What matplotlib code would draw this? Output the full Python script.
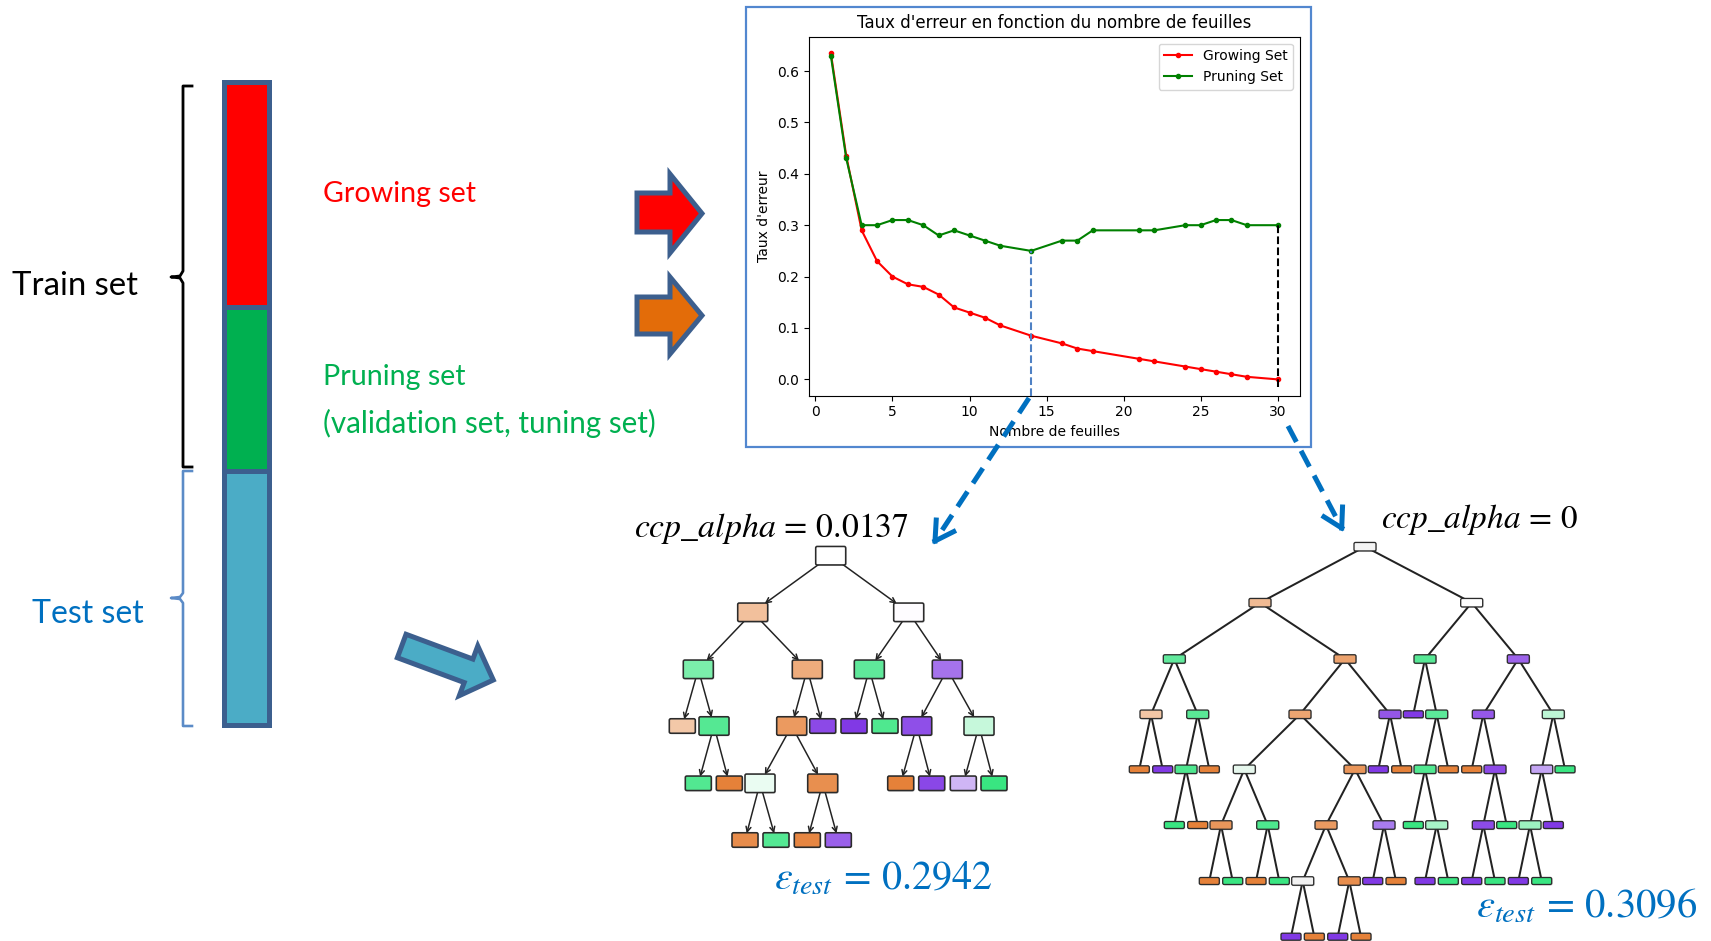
import numpy as np
import matplotlib
matplotlib.use("Agg")
import matplotlib.pyplot as plt
from matplotlib.patches import Rectangle, Polygon, FancyBboxPatch, FancyArrowPatch
from matplotlib.lines import Line2D

plt.rcParams["mathtext.fontset"] = "stix"

# ---------------- chart data ----------------
n_leaves = [1, 2, 3, 4, 5, 6, 7, 8, 9, 10, 11, 12, 14, 16, 17, 18, 21, 22, 24, 25, 26, 27, 28, 30]
err_growing = [0.635, 0.435, 0.29, 0.23, 0.20, 0.185, 0.18, 0.165, 0.14, 0.13, 0.12, 0.105,
               0.085, 0.07, 0.06, 0.055, 0.04, 0.035, 0.025, 0.02, 0.015, 0.01, 0.005, 0.0]
err_pruning = [0.63, 0.43, 0.30, 0.30, 0.31, 0.31, 0.30, 0.28, 0.29, 0.28, 0.27, 0.26,
               0.25, 0.27, 0.27, 0.29, 0.29, 0.29, 0.30, 0.30, 0.31, 0.31, 0.30, 0.30]
series_labels = ["Growing Set", "Pruning Set"]
best_leaves = 14
full_leaves = 30
chart_title = "Taux d'erreur en fonction du nombre de feuilles"
x_label = "Nombre de feuilles"
y_label = "Taux d'erreur"

# ---------------- diagram texts ----------------
txt_train = "Train set"
txt_test = "Test set"
txt_growing = "Growing set"
txt_pruning = "Pruning set"
txt_pruning2 = "(validation set, tuning set)"
txt_alpha_pruned = r"$ccp\_alpha\,=\,0.0137$"
txt_alpha_full = r"$ccp\_alpha\,=\,0$"
txt_eps_pruned = r"$\varepsilon_{test}\,=\,0.2942$"
txt_eps_full = r"$\varepsilon_{test}\,=\,0.3096$"

# ---------------- tree illustrations (pixel layout) ----------------
t1_x = [830.7, 752.7, 908.7, 698.3, 807.3, 869.3, 947.3, 682.3, 714.0, 791.7, 822.7, 854.0, 885.0,
        916.7, 979.0, 698.3, 729.3, 760.0, 822.7, 900.7, 931.7, 963.3, 994.0, 745.0, 776.0, 807.3, 838.3]
t1_lvl = [0, 1, 1, 2, 2, 2, 2, 3, 3, 3, 3, 3, 3, 3, 3, 4, 4, 4, 4, 4, 4, 4, 4, 5, 5, 5, 5]
t1_par = [-1, 0, 0, 1, 1, 2, 2, 3, 3, 4, 4, 5, 5, 6, 6, 8, 8, 9, 9, 13, 13, 14, 14, 17, 17, 18, 18]
t1_col = ["#ffffff", "#f2c09c", "#fefcff", "#7beeab", "#eeac7c", "#5fe89a", "#a573ec",
          "#f3c8a8", "#55e893", "#eb9a60", "#8c49e7", "#8139e5", "#4fe88f", "#8f4fe8", "#c6f8db",
          "#52e891", "#e58139", "#eafcf2", "#e88f4f", "#e58139", "#8a47e7", "#cfb6f5", "#39e581",
          "#e78c4b", "#54e893", "#e68642", "#9a60ea"]
t1_levels_y = [555.7, 612.3, 669.3, 726.0, 783.3, 840.0]

t2_x = [1365, 1260, 1471.7, 1174.3, 1345, 1425, 1518.3, 1151, 1197.7, 1300, 1390, 1413.3, 1436.7,
        1483.3, 1553.3, 1139.3, 1162.7, 1186, 1209.3, 1244.3, 1355, 1378.3, 1401.7, 1425, 1448.3,
        1471.7, 1495, 1541.7, 1565, 1174.3, 1197.7, 1221, 1267.7, 1326, 1384, 1413.3, 1436.7,
        1483.3, 1506.7, 1530, 1553.3, 1209.3, 1232.7, 1256, 1279.3, 1302.7, 1349.3, 1372.7, 1396,
        1425, 1448.3, 1471.7, 1495, 1518.3, 1541.7, 1291, 1314.3, 1337.7, 1361]
t2_lvl = [0, 1, 1, 2, 2, 2, 2, 3, 3, 3, 3, 3, 3, 3, 3,
          4, 4, 4, 4, 4, 4, 4, 4, 4, 4, 4, 4, 4, 4,
          5, 5, 5, 5, 5, 5, 5, 5, 5, 5, 5, 5,
          6, 6, 6, 6, 6, 6, 6, 6, 6, 6, 6, 6, 6, 6,
          7, 7, 7, 7]
t2_par = [-1, 0, 0, 1, 1, 2, 2, 3, 3, 4, 4, 5, 5, 6, 6,
          7, 7, 8, 8, 9, 9, 10, 10, 12, 12, 13, 13, 14, 14,
          17, 17, 19, 19, 20, 20, 23, 23, 26, 26, 27, 27,
          31, 31, 32, 32, 33, 33, 34, 34, 36, 36, 37, 37, 39, 39,
          45, 45, 46, 46]
t2_col = ["#f4f4f4", "#f0ba93", "#ffffff", "#61e99c", "#eca26d", "#57e895", "#9c62ea",
          "#f3c6a5", "#5ae896", "#eca571", "#9456e8", "#8139e5", "#5ce999", "#9558e9", "#bdf6d5",
          "#e58139", "#8139e5", "#4ee78f", "#e58139", "#e6f7ed", "#e99559", "#8139e5", "#e58139",
          "#50e890", "#e58139", "#e58139", "#8d4ae7", "#c3a4f3", "#39e581",
          "#39e581", "#e58139", "#e9965b", "#4de88e", "#ea9a61", "#a87cee", "#39e581", "#a8f3c7",
          "#8d4be7", "#39e581", "#9cf2c0", "#8139e5",
          "#e58139", "#39e581", "#e58139", "#39e581", "#f2f2f2", "#e88e4e", "#8139e5", "#e58139",
          "#8139e5", "#39e581", "#8139e5", "#39e581", "#8139e5", "#39e581",
          "#8139e5", "#e58139", "#8139e5", "#e58139"]
t2_levels_y = [546.7, 602.7, 659.0, 714.3, 769.3, 825.0, 881.0, 936.7]

# ---------------- figure ----------------
W, H, DPI = 1711, 941, 100
fig = plt.figure(figsize=(W / DPI, H / DPI), dpi=DPI)
fig.patch.set_facecolor("white")
bg = fig.add_axes([0, 0, 1, 1])
bg.set_xlim(0, W)
bg.set_ylim(H, 0)
bg.axis("off")
renderer = fig.canvas.get_renderer()
PX = 72.0 / DPI  # points per pixel

EDGE = "#3c5f8e"
BLUE_TXT = "#0070c0"
GREEN_TXT = "#00b050"


def fit_text(ax, s, x0, x1, yb, color, family=None):
    kw = {}
    if family is not None:
        kw["family"] = family
    t = ax.text(x0, yb, s, ha="left", va="baseline", fontsize=20, color=color, **kw)
    w = t.get_window_extent(renderer).width
    t.set_fontsize(20 * (x1 - x0) / w)
    return t


# stacked bar
seg_tops = [81.5, 306.5, 470.5]
seg_bots = [306.5, 470.5, 724.5]
seg_cols = ["#ff0000", "#00b050", "#4bacc6"]
for top, bot, c in zip(seg_tops, seg_bots, seg_cols):
    bg.add_patch(Rectangle((224.5, top), 45, bot - top, facecolor=c, edgecolor=EDGE,
                           lw=5 * PX, joinstyle="miter"))

# braces
bx = [192, 183, 183, 180, 171, 180, 183, 183, 192]
by = [86, 86, 271, 276, 277, 278, 283, 467, 467]
bg.add_line(Line2D(bx, by, color="black", lw=2.8 * PX, solid_joinstyle="round"))
cx = [192, 183, 183, 180, 171, 180, 183, 183, 192]
cy = [471, 471, 593, 597, 598, 599, 603, 726, 726]
bg.add_line(Line2D(cx, cy, color="#5b8bc7", lw=2.6 * PX, solid_joinstyle="round"))

fit_text(bg, txt_train, 12, 138, 295, "black", "Lato")
fit_text(bg, txt_test, 32, 144, 623, BLUE_TXT, "Lato")
fit_text(bg, txt_growing, 323, 476, 202, "#ff0000", "Lato")
fit_text(bg, txt_pruning, 323, 466, 385, GREEN_TXT, "Lato")
fit_text(bg, txt_pruning2, 323, 657, 433, GREEN_TXT, "Lato")

# block arrows
red_arrow = [(637, 193), (670, 193), (670, 174), (702, 213.5), (670, 253), (670, 232), (637, 232)]
org_arrow = [(637, 297), (670, 297), (670, 277), (702, 315.5), (670, 354), (670, 334), (637, 334)]
bg.add_patch(Polygon(red_arrow, closed=True, facecolor="#ff0000", edgecolor=EDGE, lw=5 * PX,
                     joinstyle="miter"))
bg.add_patch(Polygon(org_arrow, closed=True, facecolor="#e36c09", edgecolor=EDGE, lw=5 * PX,
                     joinstyle="miter"))

tail = np.array([401.7, 646.0])
tip = np.array([493.3, 680.0])
u = (tip - tail) / np.linalg.norm(tip - tail)
nrm = np.array([-u[1], u[0]])
L = np.linalg.norm(tip - tail)
base = tail + u * (L - 26.4)
teal = [tail + nrm * 12.5, base + nrm * 12.5, base + nrm * 26.5, tip,
        base - nrm * 26.5, base - nrm * 12.5, tail - nrm * 12.5]
bg.add_patch(Polygon(teal, closed=True, facecolor="#4bacc6", edgecolor=EDGE, lw=5 * PX,
                     joinstyle="miter"))

# chart frame
bg.add_patch(Rectangle((746, 7), 565, 440, facecolor="white", edgecolor="#5287cf", lw=2.2 * PX))

# ---------------- chart ----------------
ax = fig.add_axes([808.5 / W, (H - 395.7) / H, 491.5 / W, 359.0 / H])
t = ax.set_title(chart_title, fontsize=12)
k = 392.6 / t.get_window_extent(renderer).width
ax.set_title(chart_title, fontsize=12 * k, pad=6 * k)
fs = 10 * k
ax.plot(n_leaves, err_growing, color="red", marker=".", lw=1.5 * k, ms=6 * k, label=series_labels[0])
ax.plot(n_leaves, err_pruning, color="green", marker=".", lw=1.5 * k, ms=6 * k, label=series_labels[1])
y0, y1 = ax.get_ylim()
best_val = err_pruning[n_leaves.index(best_leaves)]
full_val = err_pruning[n_leaves.index(full_leaves)]
ax.vlines(best_leaves, y0, best_val, colors="#4f81c4", linestyles="--", lw=1.5 * k, zorder=3)
ax.vlines(full_leaves, -0.015, full_val, colors="black", linestyles="--", lw=1.5 * k, zorder=3)
ax.set_ylim(y0, y1)
ax.set_xlabel(x_label, fontsize=fs, labelpad=4 * k)
ax.set_ylabel(y_label, fontsize=fs, labelpad=4 * k)
ax.tick_params(labelsize=fs, length=3.5 * k, width=0.8 * k, pad=3.5 * k)
for sp in ax.spines.values():
    sp.set_linewidth(0.8 * k)
ax.legend(loc="upper right", fontsize=fs)

# ---------------- trees ----------------
def draw_tree(xs, lvls, pars, cols, ly, int_size, leaf_size, edge_lw, box_lw, head):
    n = len(xs)
    has_child = [False] * n
    for p in pars:
        if p >= 0:
            has_child[p] = True
    boxes = []
    for i in range(n):
        w, h = int_size if has_child[i] else leaf_size
        x, y = xs[i], ly[lvls[i]]
        shadow = FancyBboxPatch((x - w / 2 + 1, y - h / 2 + 1), w, h,
                                boxstyle="round,pad=0,rounding_size=1.5",
                                facecolor="#bbbbbb", edgecolor="none", alpha=0.5, zorder=2)
        bg.add_patch(shadow)
        b = FancyBboxPatch((x - w / 2, y - h / 2), w, h, boxstyle="round,pad=0,rounding_size=1.5",
                           facecolor=cols[i], edgecolor="#2b2b2b", lw=box_lw, zorder=3)
        bg.add_patch(b)
        boxes.append(b)
    for i in range(n):
        p = pars[i]
        if p < 0:
            continue
        a = FancyArrowPatch((xs[p], ly[lvls[p]]), (xs[i], ly[lvls[i]]),
                            patchA=boxes[p], patchB=boxes[i], shrinkA=0, shrinkB=0,
                            arrowstyle=head, mutation_scale=6, color="#222222", lw=edge_lw, zorder=2.5)
        bg.add_patch(a)


draw_tree(t1_x, t1_lvl, t1_par, t1_col, t1_levels_y, (30, 18.5), (26, 14.5), 1.5 * PX, 1.6 * PX,
          "->,head_length=0.6,head_width=0.3")
draw_tree(t2_x, t2_lvl, t2_par, t2_col, t2_levels_y, (22, 8.5), (20, 7), 2.0 * PX, 1.3 * PX, "-")

# tree labels
fit_text(bg, txt_alpha_pruned, 634, 909, 536.7, "black")
fit_text(bg, txt_alpha_full, 1381, 1578, 528.3, "black")
fit_text(bg, txt_eps_pruned, 774, 993, 890, BLUE_TXT)
fit_text(bg, txt_eps_full, 1476, 1698, 918, BLUE_TXT)

# ---------------- dashed selection arrows (overlay) ----------------
ov = fig.add_axes([0, 0, 1, 1], zorder=5)
ov.set_xlim(0, W)
ov.set_ylim(H, 0)
ov.axis("off")
ov.patch.set_alpha(0)


def dashed_arrow(p0, p1):
    p0 = np.array(p0, float)
    p1 = np.array(p1, float)
    d = (p1 - p0) / np.linalg.norm(p1 - p0)
    ov.add_line(Line2D([p0[0], p1[0] - d[0] * 3], [p0[1], p1[1] - d[1] * 3], color=BLUE_TXT,
                       lw=5 * PX, ls=(0, (3.6, 2.0)), solid_capstyle="butt", dash_capstyle="butt"))
    ang = np.deg2rad(30)
    for s in (1, -1):
        c, sn = np.cos(s * ang), np.sin(s * ang)
        back = -d
        r = np.array([back[0] * c - back[1] * sn, back[0] * sn + back[1] * c])
        q = p1 + r * 21
        ov.add_line(Line2D([p1[0], q[0]], [p1[1], q[1]], color=BLUE_TXT, lw=5 * PX,
                           solid_capstyle="projecting"))


dashed_arrow((1029, 398), (935, 541))
dashed_arrow((1288, 426), (1341.7, 528))

fig.savefig("out.png", dpi=DPI, facecolor="white")
